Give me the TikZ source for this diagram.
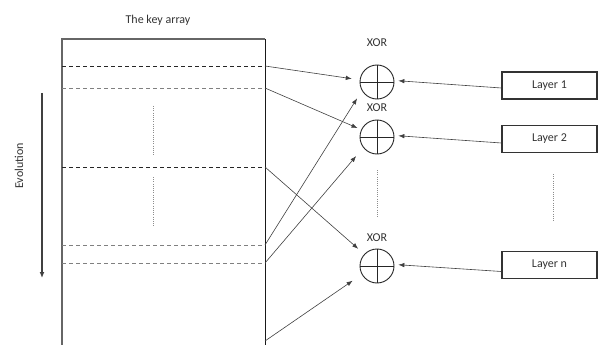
\documentclass[tikz,border=0pt]{standalone}
\usepackage{fontspec}
\setmainfont{Carlito}
\usetikzlibrary{arrows.meta}
\begin{document}
\begin{tikzpicture}[x=1pt,y=-1pt,
  lbl/.style={font=\fontsize{12}{14}\selectfont, text=black!80, inner sep=0pt},
  xorc/.style={circle, draw=black!85, line width=0.9pt, minimum size=34pt, inner sep=0pt},
  layerbox/.style={draw=black!80, line width=1.1pt, minimum width=95pt, minimum height=27pt, inner sep=0pt, font=\fontsize{12}{14}\selectfont, text=black!80},
  conn/.style={draw=black!75, line width=0.6pt, -{Latex[length=6pt,width=4.5pt]}},
  dsh/.style={line width=0.9pt, dash pattern=on 4pt off 3pt},
  dots/.style={draw=black!45, line width=0.6pt, dash pattern=on 1pt off 1.2pt}
]
\useasboundingbox (0,0) rectangle (598,345);
% key array
\draw[black!60, line width=1.2pt] (62,346) -- (62,39) -- (265,39);
\draw[black!90, line width=0.9pt] (265,39) -- (265,346);
\node[lbl] (title) at (158,20) {The key array};
% dashed rows
\draw[dsh, black!85] (62,66) -- (265,66);
\draw[dsh, black!50] (62,88) -- (265,88);
\draw[dsh, black!85] (62,167) -- (265,167);
\draw[dsh, black!50] (62,245) -- (265,245);
\draw[dsh, black!50] (62,263) -- (265,263);
\draw[dots] (153,106) -- (153,155);
\draw[dots] (153,177) -- (153,227);
\coordinate (k1) at (265,66);
\coordinate (k2) at (265,88);
\coordinate (k3) at (265,167);
\coordinate (k4) at (265,245);
\coordinate (k5) at (265,263);
\coordinate (k6) at (265,341);
% evolution
\coordinate (e1) at (42,93);
\coordinate (e2) at (42,278);
\draw[black!75, line width=1.6pt, -{Latex[length=6pt,width=5pt]}] (e1) -- (e2);
\node[lbl, rotate=90] (evo) at (19,166) {Evolution};
% XOR circles
\node[xorc] (x1) at (377,82) {};
\node[xorc] (x2) at (377,137) {};
\node[xorc] (x3) at (377,266) {};
\foreach \n in {x1,x2,x3}{
  \draw[black!85, line width=0.9pt] (\n.north) -- (\n.south) (\n.west) -- (\n.east);
}
\node[lbl] (t1) at (377,43) {XOR};
\node[lbl] (t2) at (377,108) {XOR};
\node[lbl] (t3) at (377,238) {XOR};
\draw[dots] (377,170) -- (377,218);
% layers
\node[layerbox] (l1) at (549.5,85.5) {Layer 1};
\node[layerbox] (l2) at (549.5,139) {Layer 2};
\node[layerbox] (l3) at (549.5,265) {Layer n};
\draw[dots] (553,174) -- (553,222);
% connectors
\draw[conn, shorten >=4pt] ([yshift=-2.5pt]l1.west) -- (x1.5);
\draw[conn, shorten >=4pt] ([yshift=-4pt]l2.west) -- (x2.5);
\draw[conn, shorten >=4pt] ([yshift=-6.5pt]l3.west) -- (x3.5);
\draw[conn, shorten >=8pt] (k1) -- (x1.173);
\draw[conn, shorten >=4pt] (k2) -- (x2.155);
\draw[conn, shorten >=8pt] (k3) -- (x3.137);
\draw[conn, shorten >=9pt] (k4) -- (x1.210);
\draw[conn, shorten >=11pt] (k5) -- (x2.218);
\draw[conn, shorten >=11pt] (k6) -- (x3.209);
\end{tikzpicture}
\end{document}
